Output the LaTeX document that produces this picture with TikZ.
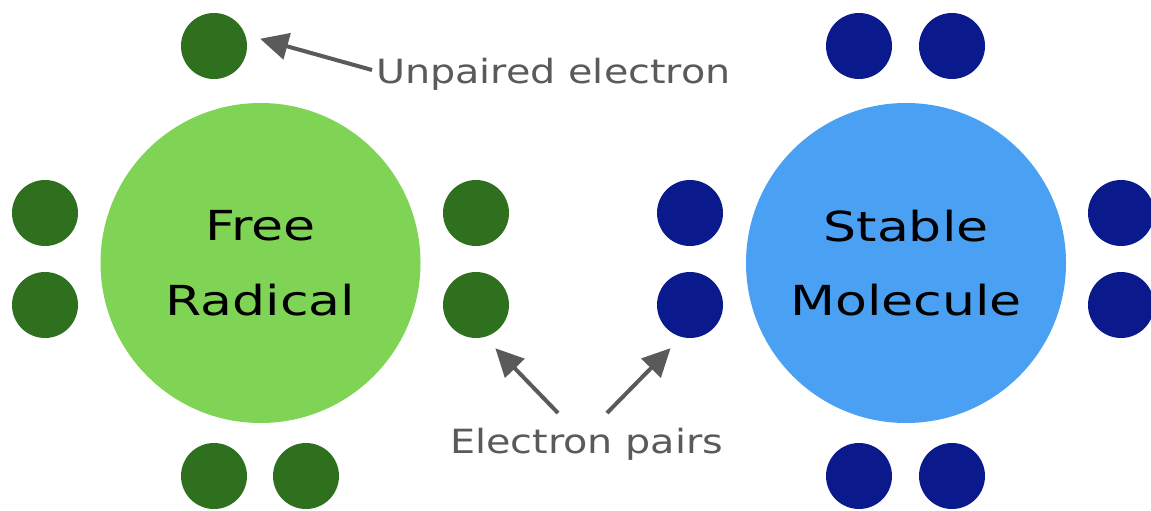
\documentclass[tikz,border=0pt]{standalone}
\usepackage{fontspec}
\usepackage{graphicx}
\setmainfont{DejaVu Sans}
\usetikzlibrary{arrows.meta}
\definecolor{lightgreen}{HTML}{7FD455}
\definecolor{darkgreen}{HTML}{2E701E}
\definecolor{lightblue}{HTML}{4AA0F2}
\definecolor{darkblue}{HTML}{0A1A8C}
\definecolor{labelgray}{HTML}{5A5A5A}
\newcommand\hw[1]{\scalebox{1.26}[1]{#1}}
\newcommand\lw[1]{\scalebox{1.19}[1]{#1}}
\tikzset{
  bigcircle/.style={circle, minimum size=240pt, inner sep=0pt, align=center,
    font=\fontsize{31}{56}\selectfont, text=black},
  gdot/.style={circle, fill=darkgreen, minimum size=49.5pt, inner sep=0pt},
  bdot/.style={circle, fill=darkblue, minimum size=49.5pt, inner sep=0pt},
  lbl/.style={text=labelgray, font=\fontsize{25}{30}\selectfont, inner sep=0pt},
  pointer/.style={draw=labelgray, line width=3pt,
    -{Triangle[length=21pt, width=20pt]}, shorten >=11.6pt}
}
\begin{document}
\begin{tikzpicture}[x=0.75pt, y=-0.75pt]
\useasboundingbox (0,0) rectangle (1151,510);
\fill[white] (0,0) rectangle (1151,510);

% big circles
\node[bigcircle, fill=lightgreen] (fr) at (260.5,263) {\hw{Free}\\\hw{Radical}};
\node[bigcircle, fill=lightblue] (sm) at (906,263) {\hw{Stable}\\\hw{Molecule}};

% free radical electrons
\node[gdot] (g1) at (214,46) {};
\node[gdot] (g2) at (45,213) {};
\node[gdot] (g3) at (45,305) {};
\node[gdot] (g4) at (476,213) {};
\node[gdot] (g5) at (476,305) {};
\node[gdot] (g6) at (214,476) {};
\node[gdot] (g7) at (306,476) {};

% stable molecule electrons
\node[bdot] (b1) at (859,46) {};
\node[bdot] (b2) at (952,46) {};
\node[bdot] (b3) at (690,213) {};
\node[bdot] (b4) at (690,305) {};
\node[bdot] (b5) at (1121,213) {};
\node[bdot] (b6) at (1121,305) {};
\node[bdot] (b7) at (859,476) {};
\node[bdot] (b8) at (952,476) {};

% labels
\node[lbl, anchor=base west] (ue) at (376,84) {\lw{Unpaired electron}};
\node[lbl, anchor=base west] (ep) at (450,453) {\lw{Electron pairs}};

% arrow tails
\coordinate (t1) at (372,70);
\coordinate (t2) at (558,413);
\coordinate (t3) at (607,413);

\draw[pointer] (t1) -- (g1.20);
\draw[pointer] (t2) -- (g5.-75);
\draw[pointer] (t3) -- (b4.-105);
\end{tikzpicture}
\end{document}
